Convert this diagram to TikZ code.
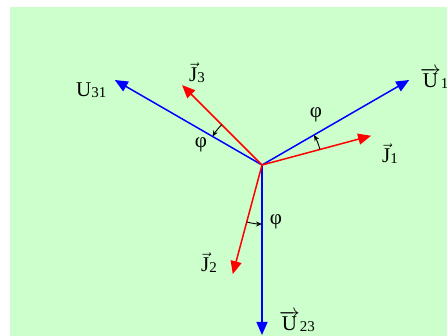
\documentclass[tikz,border=0pt]{standalone}
\usepackage{fontspec}
\setmainfont{Liberation Serif}
\usetikzlibrary{arrows.meta}
\definecolor{bggreen}{RGB}{204,255,204}
\newcommand{\sublab}[1]{{\fontsize{15}{15}\selectfont\raisebox{-1pt}{#1}}}
\begin{document}
\begin{tikzpicture}[x=1pt,y=-1pt,
  volt/.style={draw=blue, line width=1.5pt, -{Triangle[length=13pt,width=11pt]}},
  curr/.style={draw=red, line width=1.5pt, -{Triangle[length=13pt,width=11pt]}},
  phiarr/.style={draw=black, line width=0.9pt, -{Stealth[length=6pt,width=5pt]}},
  lab/.style={inner sep=0pt, anchor=base west, font=\fontsize{21}{21}\selectfont},
  philab/.style={inner sep=0pt, font=\fontsize{21}{21}\selectfont}]
\useasboundingbox (0,0) rectangle (447,336);
\fill[white] (0,0) rectangle (447,336);
\fill[bggreen] (10,7) rectangle (447,336);
\coordinate (O) at (262,165);
\path (O) ++(-30:170) coordinate (u12);
\path (O) ++(210:170) coordinate (u31);
\path (O) ++(90:170) coordinate (u23);
\path (O) ++(-15:113) coordinate (j1);
\path (O) ++(-135:113) coordinate (j3);
\path (O) ++(105:113) coordinate (j2);
% voltages
\draw[volt] (O) -- (u12);
\draw[volt] (O) -- (u31);
\draw[volt] (O) -- (u23);
% currents
\draw[curr] (O) -- (j1);
\draw[curr] (O) -- (j3);
\draw[curr] (O) -- (j2);
% phase angle arrows
\path (O) ++(-15:60) coordinate (a1s);
\path (O) ++(-135:57) coordinate (a3s);
\path (O) ++(105:59) coordinate (a2s);
\draw[phiarr] (a1s) arc[start angle=-15, end angle=-30, radius=60];
\draw[phiarr] (a3s) arc[start angle=-135, end angle=-150, radius=57];
\draw[phiarr] (a2s) arc[start angle=105, end angle=90, radius=59];
% phi labels
\node[philab] (phi1) at (316,115) {φ};
\node[philab] (phi3) at (201,145) {φ};
\node[philab] (phi2) at (276,222) {φ};
% vector labels
\node[lab] (lu31) at (76,97) {U\sublab{31}};
\node[lab] (lj3) at (189,82) {$\vec{\mbox{J}}$\sublab{3}};
\node[lab] (lu12) at (420,88) {$\overrightarrow{\mbox{U}}$\sublab{12}};
\node[lab] (lj1) at (382,163) {$\vec{\mbox{J}}$\sublab{1}};
\node[lab] (lj2) at (201,272) {$\vec{\mbox{J}}$\sublab{2}};
\node[lab] (lu23) at (279,331) {$\overrightarrow{\mbox{U}}$\sublab{23}};
\end{tikzpicture}
\end{document}
